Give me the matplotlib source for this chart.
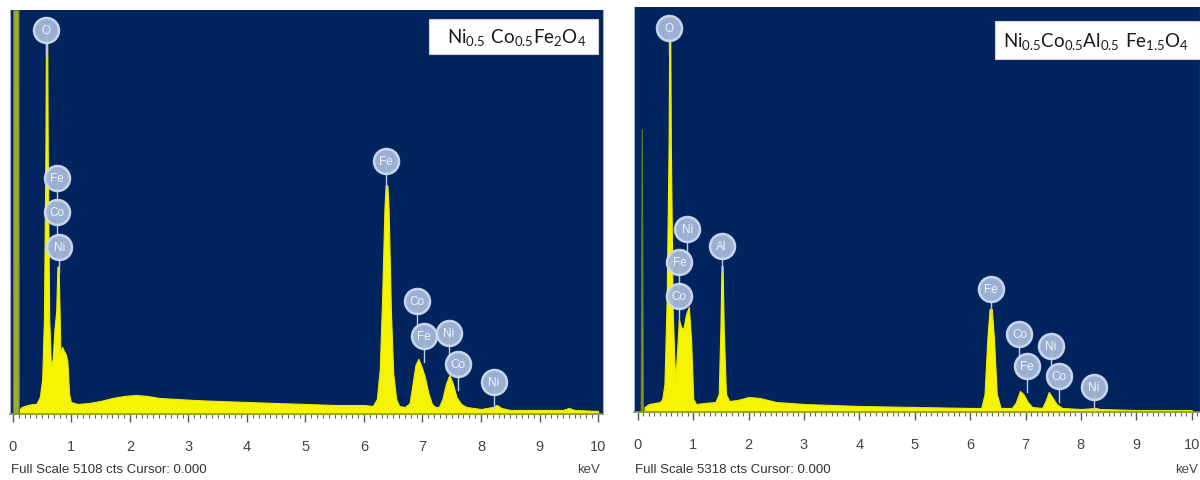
import matplotlib
matplotlib.use('Agg')
import matplotlib.pyplot as plt
from matplotlib.ticker import MultipleLocator

plt.rcParams['font.family'] = ['Liberation Sans Narrow', 'Liberation Sans', 'DejaVu Sans']
plt.rcParams['mathtext.fontset'] = 'custom'
plt.rcParams['mathtext.rm'] = 'Lato'

# ---------------- data: sample 1  Ni0.5Co0.5Fe2O4 ----------------
full_scale_1 = 5108
kev_1 = [0.12, 0.15, 0.25, 0.35, 0.40, 0.46, 0.50, 0.53, 0.555, 0.565, 0.585, 0.595, 0.62,
         0.65, 0.68, 0.71, 0.74, 0.76, 0.78, 0.80, 0.81, 0.84, 0.87, 0.90, 0.93, 0.96, 0.99,
         1.10, 1.30, 1.50, 1.70, 1.90, 2.10, 2.30, 2.50, 2.80, 3.10, 3.50, 4.00, 4.50, 5.00,
         5.50, 6.00, 6.15, 6.22, 6.27, 6.31, 6.35, 6.37, 6.40, 6.42, 6.46, 6.50, 6.55, 6.60,
         6.70, 6.78, 6.83, 6.88, 6.93, 6.98, 7.04, 7.10, 7.16, 7.22, 7.28, 7.34, 7.40, 7.46,
         7.52, 7.58, 7.66, 7.75, 8.00, 8.20, 8.27, 8.35, 8.50, 9.00, 9.40, 9.50, 9.60, 10.0]
cts_1 = [63, 89, 114, 127, 127, 215, 444, 1204, 3300, 4880, 4880, 3300, 1204,
         596, 697, 1077, 1300, 1863, 1863, 1200, 761, 849, 799, 761, 672, 254, 152,
         127, 139, 165, 203, 228, 241, 228, 203, 190, 177, 165, 152, 139, 127,
         114, 114, 101, 190, 570, 1458, 2600, 2890, 2890, 2600, 1300, 507, 190, 101,
         89, 139, 380, 621, 697, 608, 469, 266, 127, 89, 89, 190, 380, 494,
         380, 215, 127, 89, 63, 89, 114, 76, 51, 51, 51, 76, 51, 38]
zero_kev_1 = [0.0, 0.005, 0.095, 0.10]
zero_cts_1 = [0, 5108, 5108, 0]
lab_txt_1 = ['O', 'Fe', 'Co', 'Ni', 'Fe', 'Co', 'Fe', 'Ni', 'Co', 'Ni']
lab_kev_1 = [0.56, 0.75, 0.75, 0.79, 6.38, 6.91, 7.03, 7.45, 7.61, 8.22]
lab_cts_1 = [4855, 2979, 2548, 2117, 3194, 1432, 989, 1027, 634, 406]
title_1 = r'$\mathrm{Ni_{0.5}\ Co_{0.5}Fe_{2}O_{4}}$'

# ---------------- data: sample 2  Ni0.5Co0.5Al0.5Fe1.5O4 ----------------
full_scale_2 = 5318
kev_2 = [0.12, 0.20, 0.30, 0.40, 0.44, 0.48, 0.52, 0.555, 0.565, 0.585, 0.595, 0.63, 0.67,
         0.70, 0.74, 0.78, 0.82, 0.87, 0.92, 0.96, 1.00, 1.05, 1.20, 1.40, 1.46, 1.49, 1.51,
         1.53, 1.55, 1.59, 1.65, 1.80, 2.00, 2.20, 2.50, 3.00, 3.50, 4.00, 5.00, 6.00, 6.20,
         6.26, 6.31, 6.35, 6.39, 6.43, 6.48, 6.55, 6.75, 6.82, 6.90, 6.96, 7.04, 7.12, 7.30,
         7.36, 7.42, 7.48, 7.56, 7.66, 8.00, 8.27, 8.35, 9.00, 10.0]
cts_2 = [66, 105, 118, 131, 171, 368, 1484, 3500, 4871, 4871, 3500, 1300, 433,
         696, 1221, 1116, 1090, 1287, 1379, 958, 171, 105, 118, 131, 236, 1090, 1917,
         1917, 1090, 236, 144, 158, 197, 184, 131, 105, 92, 79, 66, 53, 53,
         236, 958, 1352, 1352, 958, 236, 53, 53, 118, 276, 236, 131, 66, 53,
         144, 263, 197, 105, 53, 39, 53, 39, 26, 26]
zero_kev_2 = [0.05, 0.07, 0.09]
zero_cts_2 = [0, 3716, 0]
lab_txt_2 = ['O', 'Ni', 'Fe', 'Co', 'Al', 'Fe', 'Co', 'Fe', 'Ni', 'Co', 'Ni']
lab_kev_2 = [0.56, 0.89, 0.75, 0.75, 1.51, 6.37, 6.89, 7.02, 7.46, 7.61, 8.23]
lab_cts_2 = [5042, 2403, 1970, 1523, 2180, 1615, 1024, 604, 867, 473, 328]
title_2 = r'$\mathrm{Ni_{0.5}Co_{0.5}Al_{0.5}\ Fe_{1.5}O_{4}}$'

tick_vals = list(range(11))

BG = '#02245e'
YEL = '#f7f400'

fig = plt.figure(figsize=(12, 4.81), dpi=100)
fig.patch.set_facecolor('white')

W, H = 1200.0, 481.0


def panel(rect_px, xlim, full, kev, cts, zk, zc, zcol, ltxt, lkev, lcts,
          title, box_px, text_x_px, footer, kev_x_px):
    x0, y0, x1, y1 = rect_px
    ax = fig.add_axes([x0 / W, 1 - y1 / H, (x1 - x0) / W, (y1 - y0) / H])
    ax.set_facecolor(BG)
    ax.set_xlim(*xlim)
    ax.set_ylim(0, full)
    ax.fill_between(kev, cts, 0, color=YEL, lw=0.8, edgecolor='#eeec00', zorder=2)
    ax.fill_between(zk, zc, 0, color=zcol, lw=0.8, edgecolor='#6f7d25', zorder=2)
    stem = 0.065 * full
    for t, xk, yc in zip(ltxt, lkev, lcts):
        ax.plot([xk, xk], [yc, yc - stem], color='#b9cbe4', lw=1.0, zorder=3)
        ax.plot(xk, yc, marker='o', ms=18, mfc='#a3b8d8', mec='#cfdbee', mew=1.8,
                alpha=0.95, zorder=4)
        ax.text(xk, yc, t, ha='center', va='center', fontsize=8.5, color='#eef3fb',
                zorder=5)
    # ruler-like axis
    ax.set_xticks(tick_vals)
    ax.set_xticklabels([str(v) for v in tick_vals])
    ax.xaxis.set_minor_locator(MultipleLocator(0.1))
    ax.tick_params(axis='x', which='major', direction='out', length=6, width=1,
                   color='#555555', pad=12, labelsize=10.5, labelcolor='#444444')
    ax.tick_params(axis='x', which='minor', direction='out', length=3, width=0.8,
                   color='#666666')
    ax.set_yticks([])
    ax.spines['top'].set_visible(False)
    ax.spines['bottom'].set_color('#8a8f5a')
    ax.spines['bottom'].set_linewidth(1.2)
    ax.spines['left'].set_color('#9fb0c8')
    ax.spines['right'].set_color('#9fb0c8')
    # title box
    bx0, by0, bx1, by1 = box_px
    tr = ax.transAxes
    axw, axh = (x1 - x0), (y1 - y0)
    ax.add_patch(plt.Rectangle(((bx0 - x0) / axw, (y1 - by1) / axh),
                               (bx1 - bx0) / axw, (by1 - by0) / axh,
                               transform=tr, facecolor='white', edgecolor='#d0d0d0',
                               lw=0.8, zorder=6, clip_on=False))
    ax.text((text_x_px - x0) / axw, (y1 - (by0 + by1) / 2) / axh, title,
            transform=tr, ha='left', va='center', fontsize=13.5, color='#1a1a1a',
            zorder=7)
    # footer
    fig.text((x0 + 1) / W, 1 - 470 / H, footer, ha='left', va='center', fontsize=9.5,
             color='#333333')
    fig.text(kev_x_px / W, 1 - 470 / H, 'keV', ha='right', va='center', fontsize=9.5,
             color='#444444')
    return ax


panel((10, 11, 603, 415), (-0.05, 10.085), full_scale_1, kev_1, cts_1,
      zero_kev_1, zero_cts_1, '#9cab33', lab_txt_1, lab_kev_1, lab_cts_1,
      title_1, (429, 20, 598, 55), 447,
      'Full Scale %d cts Cursor: 0.000' % full_scale_1, 600)

panel((634, 8, 1200, 413), (-0.07, 10.15), full_scale_2, kev_2, cts_2,
      zero_kev_2, zero_cts_2, '#8ea22c', lab_txt_2, lab_kev_2, lab_cts_2,
      title_2, (995, 22, 1200, 60), 1003,
      'Full Scale %d cts Cursor: 0.000' % full_scale_2, 1198)

fig.savefig('out.png', dpi=100, facecolor='white')
